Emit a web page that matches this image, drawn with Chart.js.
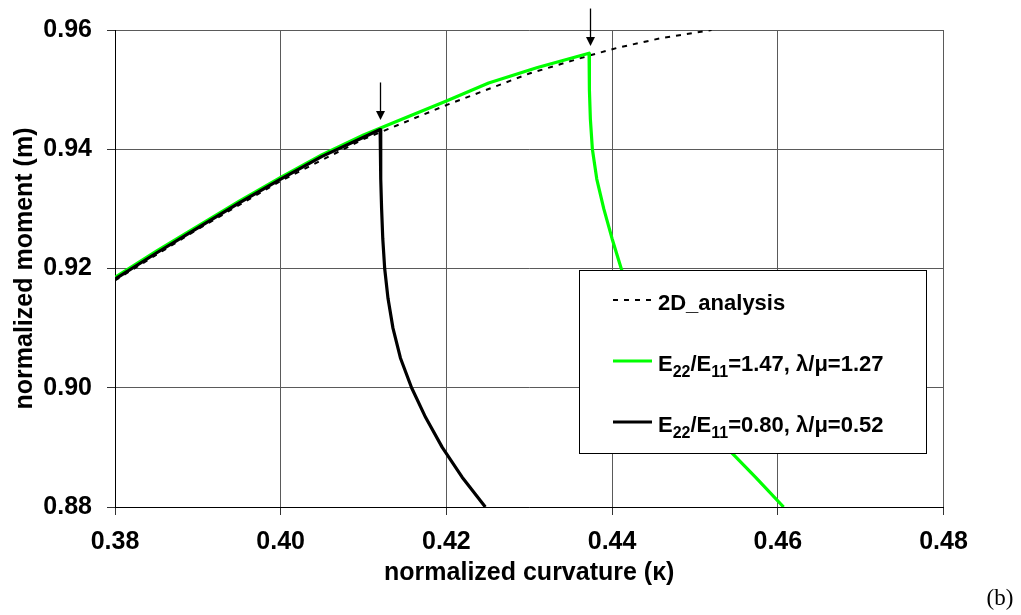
<!DOCTYPE html>
<html>
<head>
<meta charset="utf-8">
<script src="https://cdn.jsdelivr.net/npm/chart.js@4.4.0/dist/chart.umd.min.js"></script>
<style>
  html, body { margin: 0; padding: 0; background: #fff; }
  #wrap { width: 1021px; height: 615px; }
</style>
</head>
<body>
<div id="wrap"><canvas id="chart" width="1021" height="615"></canvas></div>
<script>
const xTicks = [0.38, 0.40, 0.42, 0.44, 0.46, 0.48];
const yTicks = [0.88, 0.90, 0.92, 0.94, 0.96];

// 2D analysis (dashed)
const kappa2D = [0.3800, 0.3900, 0.4000, 0.4100, 0.4200, 0.4300, 0.4372, 0.4406, 0.4458, 0.4520];
const moment2D = [0.9180, 0.9266, 0.9347, 0.9417, 0.9474, 0.9527, 0.9557, 0.9570, 0.9586, 0.9600];

// E22/E11=1.47 (green): loading branch, then the drop after the peak
const kappaGreen = [0.3800, 0.3850, 0.3900, 0.3950, 0.4000, 0.4050, 0.4100, 0.4144, 0.4200, 0.4251, 0.4310, 0.43722,
  0.43726, 0.43738, 0.43762, 0.43815, 0.43900, 0.44000, 0.44110, 0.44235, 0.44385, 0.44565, 0.44775, 0.45050,
  0.45380, 0.45730, 0.46070];
const momentGreen = [0.9185, 0.9229, 0.9271, 0.9313, 0.9353, 0.9391, 0.9424, 0.9449, 0.9481, 0.9511, 0.9537, 0.9561,
  0.9500, 0.9450, 0.9400, 0.9350, 0.9300, 0.9250, 0.9200, 0.9150, 0.9100, 0.9050, 0.9000, 0.8950,
  0.8900, 0.8850, 0.8800];

// E22/E11=0.80 (black)
const kappaBlack = [0.3800, 0.3850, 0.3900, 0.3950, 0.4000, 0.4050, 0.4100, 0.4120,
  0.41205, 0.41210, 0.41218, 0.41232, 0.41255, 0.41295, 0.41355, 0.41445, 0.41580, 0.41750, 0.41950, 0.42190, 0.42470];
const momentBlack = [0.9182, 0.9226, 0.9268, 0.9310, 0.9350, 0.9388, 0.9420, 0.9433,
  0.9400, 0.9350, 0.9300, 0.9250, 0.9200, 0.9150, 0.9100, 0.9050, 0.9000, 0.8950, 0.8900, 0.8850, 0.8800];

// arrows marking the peaks
const arrowKappa = [0.4120, 0.4373];
const arrowTop = [0.9512, 0.9636];
const arrowTip = [0.9449, 0.9573];

const seriesLabels = ["2D_analysis", "E_{22}/E_{11}=1.47, λ/μ=1.27", "E_{22}/E_{11}=0.80, λ/μ=0.52"];
const seriesColors = ["#000000", "#00ff00", "#000000"];

const FONT = "'Liberation Sans', Arial, sans-serif";

const toPoints = (xs, ys) => xs.map((x, i) => ({ x: x, y: ys[i] }));

const arrowPlugin = {
  id: "peakArrows",
  afterDatasetsDraw(chart) {
    const ctx = chart.ctx;
    const xs = chart.scales.x, ys = chart.scales.y;
    ctx.save();
    ctx.strokeStyle = "#000";
    ctx.fillStyle = "#000";
    ctx.lineWidth = 1.3;
    for (let i = 0; i < arrowKappa.length; i++) {
      const px = Math.round(xs.getPixelForValue(arrowKappa[i])) + 0.5;
      const top = ys.getPixelForValue(arrowTop[i]);
      const tip = ys.getPixelForValue(arrowTip[i]);
      ctx.beginPath();
      ctx.moveTo(px, top);
      ctx.lineTo(px, tip - 6);
      ctx.stroke();
      ctx.beginPath();
      ctx.moveTo(px - 4.5, tip - 9);
      ctx.lineTo(px + 4.5, tip - 9);
      ctx.lineTo(px, tip);
      ctx.closePath();
      ctx.fill();
    }
    ctx.restore();
  }
};

const drawRich = (ctx, text, x, y) => {
  const parts = text.split(/(_\{[^}]*\})/);
  let cx = x;
  for (const p of parts) {
    if (!p) continue;
    if (p.startsWith("_{")) {
      const s = p.slice(2, -1);
      ctx.font = "bold 16px " + FONT;
      ctx.fillText(s, cx, y + 6);
      cx += ctx.measureText(s).width;
    } else {
      ctx.font = "bold 22px " + FONT;
      ctx.fillText(p, cx, y);
      cx += ctx.measureText(p).width;
    }
  }
};

const legendPlugin = {
  id: "boxLegend",
  afterDatasetsDraw(chart) {
    const ctx = chart.ctx;
    ctx.save();
    const left = 579, top = 270, w = 347, h = 183;
    ctx.fillStyle = "#fff";
    ctx.fillRect(left, top, w, h);
    ctx.strokeStyle = "#000";
    ctx.lineWidth = 1;
    ctx.strokeRect(left + 0.5, top + 0.5, w, h);
    const baselines = [310, 371, 432];
    chart.data.datasets.forEach((ds, i) => {
      const yLine = baselines[i] - 10;
      ctx.strokeStyle = ds.borderColor;
      ctx.lineWidth = ds.borderWidth;
      ctx.setLineDash(ds.borderDash || []);
      ctx.beginPath();
      ctx.moveTo(613, yLine);
      ctx.lineTo(652, yLine);
      ctx.stroke();
      ctx.setLineDash([]);
      ctx.fillStyle = "#000";
      ctx.textBaseline = "alphabetic";
      ctx.textAlign = "left";
      drawRich(ctx, ds.label, 658, baselines[i]);
    });
    ctx.restore();
  }
};

const captionPlugin = {
  id: "caption",
  afterDraw(chart) {
    const ctx = chart.ctx;
    ctx.save();
    ctx.font = "23px 'Liberation Serif', 'Times New Roman', serif";
    ctx.fillStyle = "#000";
    ctx.textAlign = "center";
    ctx.textBaseline = "middle";
    ctx.fillText("(b)", 1000, 599);
    ctx.restore();
  }
};

new Chart(document.getElementById("chart"), {
  type: "scatter",
  data: {
    datasets: [
      {
        label: seriesLabels[0],
        data: toPoints(kappa2D, moment2D),
        borderColor: seriesColors[0],
        borderWidth: 2,
        borderDash: [5, 6],
        order: 3
      },
      {
        label: seriesLabels[1],
        data: toPoints(kappaGreen, momentGreen),
        borderColor: seriesColors[1],
        borderWidth: 3.2,
        order: 2
      },
      {
        label: seriesLabels[2],
        data: toPoints(kappaBlack, momentBlack),
        borderColor: seriesColors[2],
        borderWidth: 3.2,
        order: 1
      }
    ]
  },
  options: {
    responsive: false,
    animation: false,
    devicePixelRatio: 1,
    showLine: true,
    elements: {
      point: { radius: 0 },
      line: { tension: 0, fill: false, borderJoinStyle: "round" }
    },
    layout: { padding: { left: 0, top: 27, right: 77.5, bottom: 0 } },
    plugins: {
      legend: { display: false },
      tooltip: { enabled: false }
    },
    scales: {
      x: {
        type: "linear",
        min: 0.38,
        max: 0.48,
        afterBuildTicks: (scale) => { scale.ticks = xTicks.map(v => ({ value: v })); },
        afterFit: (scale) => { scale.height = 108; },
        ticks: {
          callback: (v) => v.toFixed(2),
          font: { family: FONT, size: 25, weight: "bold" },
          color: "#000",
          padding: 12,
          maxRotation: 0
        },
        grid: { color: "#5a5a5a", lineWidth: 1, tickLength: 8, tickColor: "#333" },
        border: { display: true, color: "#000", width: 1 },
        title: {
          display: true,
          text: "normalized curvature (κ)",
          font: { family: FONT, size: 25, weight: "bold" },
          color: "#000",
          padding: { top: 0, bottom: 27 }
        }
      },
      y: {
        type: "linear",
        min: 0.88,
        max: 0.96,
        afterBuildTicks: (scale) => { scale.ticks = yTicks.map(v => ({ value: v })); },
        afterFit: (scale) => { scale.width = 115; },
        ticks: {
          callback: (v) => v.toFixed(2),
          font: { family: FONT, size: 25, weight: "bold" },
          color: "#000",
          padding: 15
        },
        grid: { color: "#5a5a5a", lineWidth: 1, tickLength: 8, tickColor: "#333" },
        border: { display: true, color: "#000", width: 1 },
        title: {
          display: true,
          text: "normalized moment (m)",
          font: { family: FONT, size: 25, weight: "bold" },
          color: "#000",
          padding: { top: 10, bottom: 0 }
        }
      }
    }
  },
  plugins: [legendPlugin, arrowPlugin, captionPlugin]
});
</script>
</body>
</html>
